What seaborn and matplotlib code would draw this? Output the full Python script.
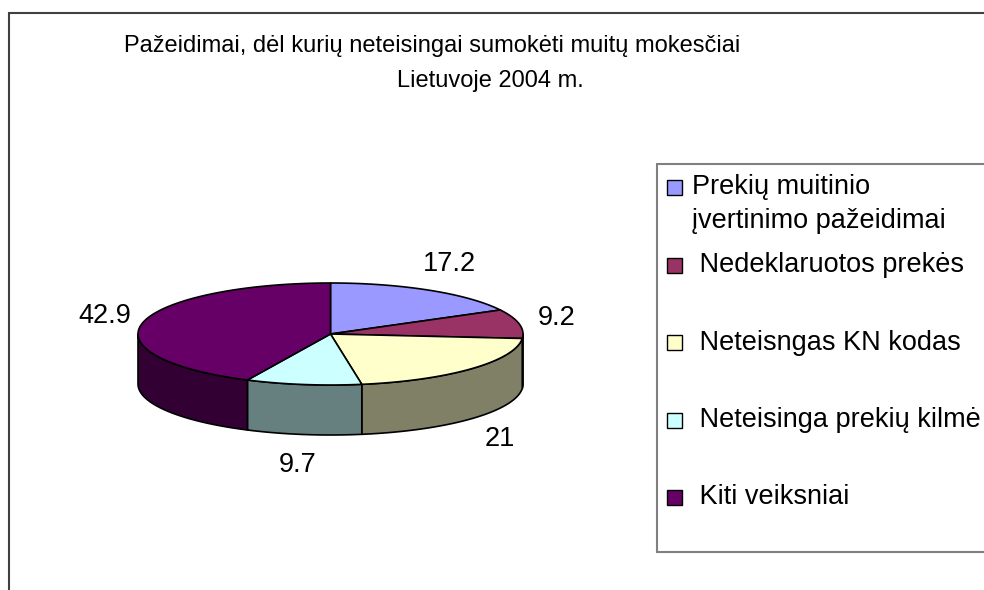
import numpy as np
import matplotlib.pyplot as plt
from matplotlib import font_manager
from matplotlib.patches import Polygon, Rectangle
import seaborn as sns

# chart data
title_lines = ["Pažeidimai, dėl kurių neteisingai sumokėti muitų mokesčiai",
               "Lietuvoje 2004 m."]
categories = ["Prekių muitinio\nįvertinimo pažeidimai",
              " Nedeklaruotos prekės",
              " Neteisngas KN kodas",
              " Neteisinga prekių kilmė",
              " Kiti veiksniai"]
values = [17.2, 9.2, 21, 9.7, 42.9]
value_labels = ["17.2", "9.2", "21", "9.7", "42.9"]
top_colors = sns.color_palette(["#9999FF", "#993366", "#FFFFCC", "#CCFFFF", "#660066"])
side_colors = sns.color_palette(["#4D4D80", "#4D1A33", "#808066", "#668080", "#330033"])

sns.set_theme(style="white")
plt.rcParams['font.family'] = ['Liberation Sans', 'DejaVu Sans']
FS = 19.5

# title in the reference is a narrow face
installed = {f.name for f in font_manager.fontManager.ttflist}
if 'Liberation Sans Narrow' in installed:
    title_font = dict(family=['Liberation Sans Narrow', 'DejaVu Sans'], fontsize=FS)
else:
    title_font = dict(family=['Liberation Sans', 'DejaVu Sans'], fontsize=17)

fig = plt.figure(figsize=(9.84, 5.9), dpi=100)
ax = fig.add_axes([0, 0, 1, 1])
ax.set_xlim(0, 984)
ax.set_ylim(590, 0)
ax.axis('off')

# outer chart frame
ax.add_patch(Rectangle((9, 12.5), 1100, 700, facecolor='white', edgecolor='#404040', lw=1.5, zorder=0))

# title
ax.text(432, 46, title_lines[0], ha='center', va='center', color='black', **title_font)
ax.text(490, 81, title_lines[1], ha='center', va='center', color='black', **title_font)

# 3D pie geometry
cx, cy = 330.5, 334
a, b = 192.5, 51
depth = 50


def arc(t1, t2, dy=0, n=120):
    t = np.linspace(t1, t2, n)
    return np.column_stack([cx + a * np.sin(t), cy - b * np.cos(t) + dy])


total = sum(values)
bounds = np.concatenate([[0], np.cumsum(values)]) / total * 2 * np.pi

for i in range(len(values)):
    t1, t2 = bounds[i], bounds[i + 1]
    # visible side wall (front half)
    s1, s2 = max(t1, np.pi / 2), min(t2, 3 * np.pi / 2)
    if s1 < s2:
        pts = np.vstack([arc(s1, s2), arc(s2, s1, dy=depth)])
        ax.add_patch(Polygon(pts, closed=True, facecolor=side_colors[i],
                             edgecolor='black', lw=1.2, joinstyle='round', zorder=2))
    # top face
    pts = np.vstack([[cx, cy], arc(t1, t2)])
    ax.add_patch(Polygon(pts, closed=True, facecolor=top_colors[i],
                         edgecolor='black', lw=1.2, joinstyle='round', zorder=3))
    # value label
    mid = (t1 + t2) / 2
    lx = cx + 1.2 * a * np.sin(mid)
    ly = cy - 1.6 * b * np.cos(mid) + (depth if np.cos(mid) < 0 else 0)
    ax.text(lx, ly, value_labels[i], ha='center', va='center', fontsize=FS, color='black', zorder=4)

# legend
ax.add_patch(Rectangle((657, 164), 400, 388, facecolor='white', edgecolor='#808080', lw=1.5, zorder=1))
for i, lab in enumerate(categories):
    yc = 187.5 + i * 77.5
    ax.add_patch(Rectangle((667, yc - 7.5), 15, 15, facecolor=top_colors[i],
                           edgecolor='black', lw=1.0, zorder=2))
    for j, line in enumerate(lab.split("\n")):
        ax.text(692, yc + j * 34, line, ha='left', va='center', fontsize=FS, color='black', zorder=2)

fig.savefig('out.png', dpi=100)
